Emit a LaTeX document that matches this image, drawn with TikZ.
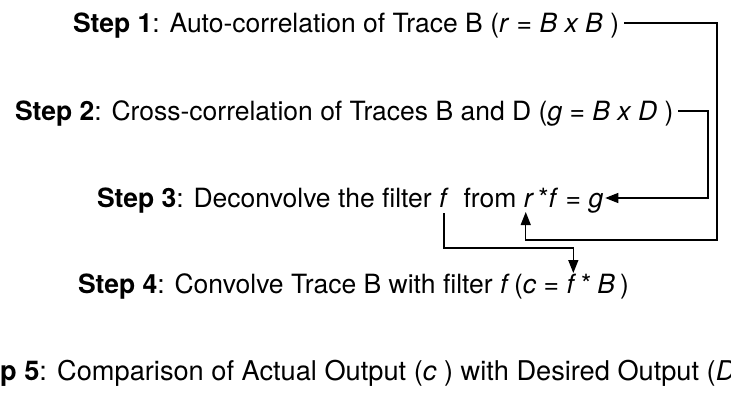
\documentclass[tikz,border=0pt]{standalone}
\usepackage{fontspec}
\setmainfont{TeX Gyre Heros}
\usetikzlibrary{arrows.meta,calc}
\begin{document}
\begin{tikzpicture}[x=1pt,y=-1pt,
  txt/.style={inner sep=0pt,outer sep=0pt,anchor=base west,font=\fontsize{26.5}{30}\selectfont},
  conn/.style={line width=1.4pt},
  arr/.style={conn,-{Triangle[length=13pt,width=10pt]}}]
\useasboundingbox (0,0) rectangle (731,392);
\clip (0,0) rectangle (731,392);
\fill[white] (0,0) rectangle (731,392);
% Step 1
\node[txt] (s1) at (73,32) {\textbf{Step 1}: Auto-correlation of Trace B (\textit{r} = \textit{B x B} )};
% Step 2
\node[txt] (s2) at (15,120) {\textbf{Step 2}: Cross-correlation of Traces B and D (\textit{g} = \textit{B x D} )};
% Step 3 (pieces)
\node[txt] (s3a) at (97,207) {\textbf{Step 3}: Deconvolve the filter\ \mbox{}};
\node[txt] (s3f) at (s3a.base east) {\textit{f}};
\node[txt] (s3b) at (s3f.base east) {\mbox{}\ \ from\ \mbox{}};
\node[txt] (s3r) at (s3b.base east) {\textit{r}};
\node[txt] (s3c) at (s3r.base east) {\,*\textit{f} = \textit{g}};
% Step 4 (pieces)
\node[txt] (s4a) at (78,293) {\textbf{Step 4}: Convolve Trace B with filter \textit{f}\,(\textit{c} =\ \mbox{}};
\node[txt] (s4f) at (s4a.base east) {\textit{f}};
\node[txt] (s4b) at (s4f.base east) {\mbox{}\kern5pt*\kern6pt\textit{B}\kern5pt)};
% Step 5
\node[txt,font=\fontsize{27.2}{31}\selectfont] (s5) at (-42,380) {\textbf{Step 5}: Comparison of Actual Output (\textit{c}\ ) with Desired Output (\textit{D}\ )};
% helper positions
\coordinate (R1) at (717,0);
\coordinate (R2) at (708,0);
\coordinate (c1) at ($(s1.base east)+(5,-9)$);
\coordinate (c2) at ($(s2.base east)+(5,-9)$);
\coordinate (c3) at ($(s3c.base east)+(2,-9)$);
\coordinate (bot) at (0,240);
\coordinate (mid) at (0,248);
\coordinate (rb) at ($(s3r.base west)+(2,5)$);
\coordinate (fa) at ($(s3f.base)+(0,6)$);
\coordinate (fb) at ($(s4f.base)+(2,-20)$);
% connectors
\draw[arr] (c1) -- (c1 -| R1) -- (R1 |- bot) -- (rb |- bot) -- (rb);
\draw[arr] (c2) -- (c2 -| R2) -- (R2 |- c3) -- (c3);
\draw[arr] (fa) -- (fa |- mid) -- (fb |- mid) -- (fb);
\end{tikzpicture}
\end{document}
